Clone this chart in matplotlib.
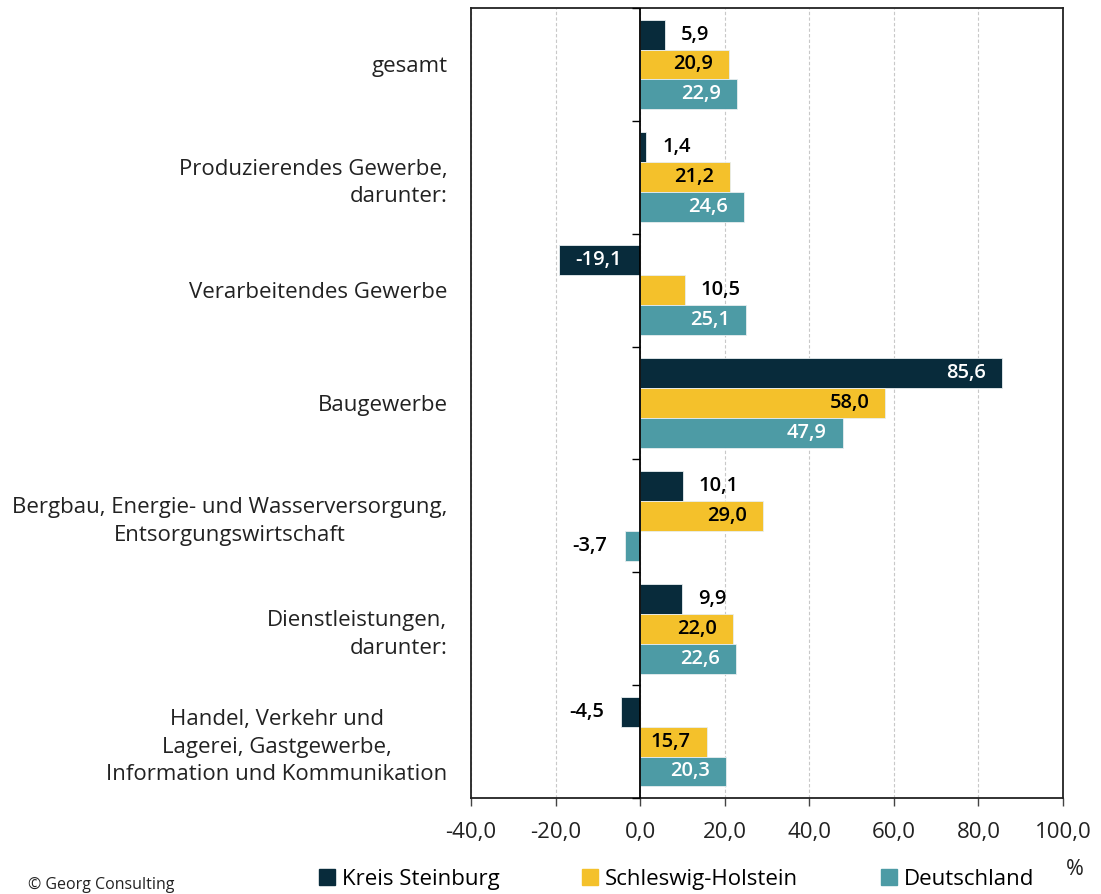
import numpy as np
import matplotlib.pyplot as plt
from matplotlib.lines import Line2D

# Daten
kategorien = [
    "gesamt",
    "Produzierendes Gewerbe,\ndarunter:",
    "Verarbeitendes Gewerbe",
    "Baugewerbe",
    "Bergbau, Energie- und Wasserversorgung,\nEntsorgungswirtschaft",
    "Dienstleistungen,\ndarunter:",
    "Handel, Verkehr und\nLagerei, Gastgewerbe,\nInformation und Kommunikation",
]
ausrichtung = ["center", "right", "center", "center", "center", "right", "center"]

kreis_steinburg = [5.9, 1.4, -19.1, 85.6, 10.1, 9.9, -4.5]
schleswig_holstein = [20.9, 21.2, 10.5, 58.0, 29.0, 22.0, 15.7]
deutschland = [22.9, 24.6, 25.1, 47.9, -3.7, 22.6, 20.3]

serien = ["Kreis Steinburg", "Schleswig-Holstein", "Deutschland"]
farben = ["#082b3b", "#f4c12b", "#4d9ba5"]
textfarben_innen = ["white", "black", "white"]

xticks = [-40, -20, 0, 20, 40, 60, 80, 100]

plt.rcParams["font.family"] = ["Open Sans", "DejaVu Sans"]

fig = plt.figure(figsize=(11.01, 8.94), dpi=100)
ax = fig.add_axes([0.4278, 0.1074, 0.5377, 0.8836])

y = np.arange(len(kategorien))
h = 0.265
werte = [kreis_steinburg, schleswig_holstein, deutschland]

for k, (name, vals) in enumerate(zip(serien, werte)):
    pos = y + (k - 1) * h
    ax.barh(pos, vals, height=h, color=farben[k], edgecolor="#e8eef0", linewidth=0.6, label=name, zorder=3)
    for yy, v in zip(pos, vals):
        txt = f"{v:.1f}".replace(".", ",")
        if abs(v) >= 12:
            # innen am Ende
            off = -16 if v > 0 else 16
            ha = "right" if v > 0 else "left"
            col = textfarben_innen[k]
        else:
            off = 16 if v >= 0 else -17
            ha = "left" if v >= 0 else "right"
            col = "black"
        ax.annotate(txt, (v, yy), xytext=(off, 0), textcoords="offset pixels",
                    ha=ha, va="center", fontsize=14.5, fontweight="semibold", color=col, zorder=4)

ax.set_xlim(-40, 100)
ax.set_ylim(len(kategorien) - 0.5, -0.5)
ax.set_xticks(xticks)
ax.set_xticklabels([f"{t:.1f}".replace(".", ",") for t in xticks], fontsize=16, color="#222222")
ax.tick_params(axis="x", direction="out", length=6, width=1, color="#444444", pad=11)

ax.set_yticks(y)
ax.set_yticklabels(kategorien, fontsize=16, color="#222222", linespacing=1.4)
for lab, al in zip(ax.get_yticklabels(), ausrichtung):
    lab.set_multialignment(al)
ax.tick_params(axis="y", length=0, pad=17)

ax.grid(axis="x", color="#c8c8c8", linestyle=(0, (3, 2)), linewidth=0.8, zorder=0)
ax.axvline(0, color="black", linewidth=1.3, zorder=5)
grenzen = np.arange(len(kategorien) + 1) - 0.5
ax.hlines(grenzen, -2, 0, color="black", linewidth=1, zorder=5, clip_on=False)

for s in ax.spines.values():
    s.set_color("#222222")
    s.set_linewidth(1.3)

handles = [Line2D([], [], marker="s", linestyle="none", markersize=12, color=c) for c in farben]
fig.legend(handles, serien, loc="center", bbox_to_anchor=(0.613, 0.016), ncol=3, frameon=False,
           fontsize=16, handletextpad=0.15, columnspacing=3.6, handlelength=1.0)

fig.text(0.976, 0.027, "%", fontsize=15.5, ha="center", va="center", color="#222222")
fig.text(0.025, 0.001, "© Georg Consulting", fontsize=11.5, ha="left", va="bottom", color="#222222")

fig.savefig("out.png", dpi=100)
plt.close(fig)
